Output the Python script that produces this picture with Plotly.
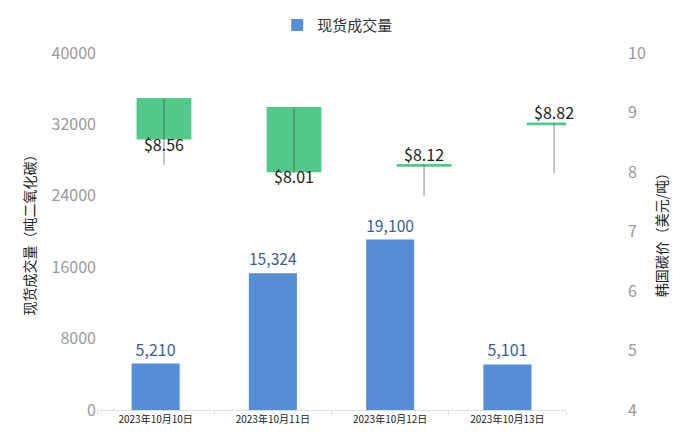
import plotly.graph_objects as go

dates = ["2023年10月10日", "2023年10月11日", "2023年10月12日", "2023年10月13日"]
volume = [5210, 15324, 19100, 5101]
price_open = [9.23, 9.08, 8.10, 8.80]
price_high = [9.23, 9.08, 8.12, 8.82]
price_low = [8.12, 7.98, 7.60, 7.98]
price_close = [8.56, 8.01, 8.12, 8.82]
left_ticks = [0, 8000, 16000, 24000, 32000, 40000]
right_ticks = [4, 5, 6, 7, 8, 9, 10]

FONT = "Noto Sans CJK SC, Microsoft YaHei, sans-serif"
GREEN = "#52c98a"
BLUE = "#558ed5"

fig = go.Figure()

# volume bars
fig.add_trace(go.Bar(
    x=dates, y=volume, name="现货成交量", xaxis="x", yaxis="y",
    marker=dict(color=BLUE), width=0.41,
    text=[f"{v:,}" for v in volume], textposition="outside",
    textfont=dict(color="#3a5f91", size=16, family=FONT),
    cliponaxis=False,
))

# candle bodies
base = [min(o, c) for o, c in zip(price_open, price_close)]
height = [abs(c - o) for o, c in zip(price_open, price_close)]
fig.add_trace(go.Bar(
    x=dates, y=height, base=base, xaxis="x2", yaxis="y2",
    marker=dict(color=GREEN, line=dict(color=GREEN, width=1.5)),
    width=0.41, showlegend=False, hoverinfo="skip", cliponaxis=False,
))

# wicks
wx, wy = [], []
for d, h, l in zip(dates, price_high, price_low):
    wx += [d, d, None]
    wy += [h, l, None]
fig.add_trace(go.Scatter(
    x=wx, y=wy, xaxis="x2", yaxis="y2", mode="lines",
    line=dict(color="rgba(60,60,60,0.6)", width=1),
    showlegend=False, hoverinfo="skip", cliponaxis=False,
))

# price labels
pos = ["bottom center" if c < o else "top center" for o, c in zip(price_open, price_close)]
fig.add_trace(go.Scatter(
    x=dates, y=price_close, xaxis="x2", yaxis="y2", mode="text",
    text=[f"${c:.2f}" for c in price_close], textposition=pos,
    textfont=dict(color="#222222", size=16, family=FONT),
    showlegend=False, hoverinfo="skip", cliponaxis=False,
))

fig.update_layout(
    template="none",
    width=684, height=430,
    margin=dict(l=89, r=65, t=45, b=28, autoexpand=False),
    paper_bgcolor="white", plot_bgcolor="white",
    font=dict(family=FONT, color="#999999"),
    showlegend=True,
    legend=dict(orientation="h", x=0.482, xanchor="center", xref="container",
                y=0.96, yanchor="middle", yref="container",
                font=dict(size=15, color="#333333", family=FONT),
                itemwidth=30, bgcolor="rgba(0,0,0,0)"),
    xaxis=dict(domain=[0, 0.885], type="category", range=[-0.5, 3.5], automargin=False,
               showline=True, linecolor="#d9e1f2", linewidth=1,
               ticks="outside", tickson="boundaries", ticklen=4, tickcolor="#d9e1f2",
               tickfont=dict(size=10, color="#222222", family=FONT),
               showgrid=False, zeroline=False),
    xaxis2=dict(domain=[0, 0.885], type="category", overlaying="x", range=[-0.515, 3.092],
                visible=False, anchor="y2", automargin=False),
    yaxis=dict(range=[0, 40000], tickvals=left_ticks, ticktext=[str(v) for v in left_ticks],
               showgrid=False, zeroline=False, automargin=False, ticks="",
               tickfont=dict(size=16, color="#999999", family=FONT),
               title=dict(text="现货成交量（吨二氧化碳）", font=dict(size=14, color="#222222", family=FONT),
                          standoff=12)),
    yaxis2=dict(range=[4, 10], tickvals=right_ticks, overlaying="y", side="right",
                anchor="free", position=1.0, showgrid=False, zeroline=False, automargin=False,
                ticks="",
                tickfont=dict(size=16, color="#999999", family=FONT),
                title=dict(text="韩国碳价（美元/吨）", font=dict(size=14, color="#222222", family=FONT),
                           standoff=12)),
)

fig.write_html("out.html")
